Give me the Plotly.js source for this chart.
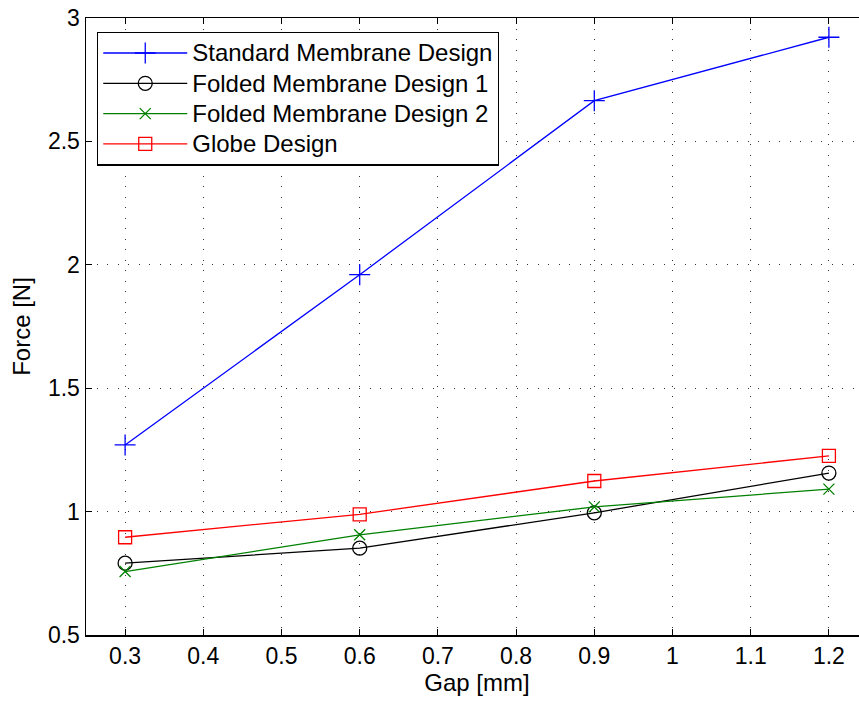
<!DOCTYPE html>
<html>
<head>
<meta charset="utf-8">
<script src="https://cdn.plot.ly/plotly-3.0.1.min.js"></script>
<style>
html,body{margin:0;padding:0;overflow:hidden;background:#fff;}
#chart{width:872px;height:702px;}
.legendtext{font-size:24px !important;}
</style>
</head>
<body>
<div id="chart"></div>
<script>
const gap = [0.3, 0.6, 0.9, 1.2];
const standardMembrane = [1.270, 1.960, 2.665, 2.922];
const foldedMembrane1 = [0.791, 0.852, 0.995, 1.156];
const foldedMembrane2 = [0.757, 0.906, 1.019, 1.091];
const globeDesign = [0.896, 0.989, 1.124, 1.226];
const seriesNames = ["Standard Membrane Design", "Folded Membrane Design 1", "Folded Membrane Design 2", "Globe Design"];
const xTicks = [0.3, 0.4, 0.5, 0.6, 0.7, 0.8, 0.9, 1, 1.1, 1.2];
const yTicks = [0.5, 1, 1.5, 2, 2.5, 3];

const fam = "Liberation Sans, Arial, sans-serif";
const tickFont = {family: fam, size: 23, color: "#000"};
const bigFont = {family: fam, size: 24, color: "#000"};
const legendFont = {family: fam, size: 21, color: "#000"};

const traces = [
  {x: gap, y: standardMembrane, name: seriesNames[0], mode: "lines+markers",
   line: {color: "#0000ff", width: 1.3},
   marker: {symbol: "cross-thin-open", size: 15, line: {color: "#0000ff", width: 1.3}}},
  {x: gap, y: foldedMembrane1, name: seriesNames[1], mode: "lines+markers",
   line: {color: "#000000", width: 1.3},
   marker: {symbol: "circle-open", size: 14, color: "#000", line: {color: "#000000", width: 1.3}}},
  {x: gap, y: foldedMembrane2, name: seriesNames[2], mode: "lines+markers",
   line: {color: "#008000", width: 1.3},
   marker: {symbol: "x-thin-open", size: 11, line: {color: "#008000", width: 1.3}}},
  {x: gap, y: globeDesign, name: seriesNames[3], mode: "lines+markers",
   line: {color: "#ff0000", width: 1.3},
   marker: {symbol: "square-open", size: 13, color: "#ff0000", line: {color: "#ff0000", width: 1.3}}}
];

const axisCommon = {
  showline: true, linecolor: "#000", linewidth: 1.5, mirror: "ticks",
  ticks: "inside", ticklen: 6, tickcolor: "#000", tickwidth: 1,
  showgrid: true, gridcolor: "#333", gridwidth: 1, griddash: "1px,9.5px",
  zeroline: false, tickfont: tickFont, automargin: false
};

const layout = {
  width: 872, height: 702,
  margin: {l: 86, r: 4, t: 18, b: 67},
  paper_bgcolor: "#fff", plot_bgcolor: "#fff",
  font: bigFont,
  showlegend: true,
  xaxis: Object.assign({}, axisCommon, {
    range: [0.25, 1.25], tickvals: xTicks, ticktext: xTicks.map(String),
    title: {text: "Gap [mm]", font: bigFont, standoff: 3}
  }),
  yaxis: Object.assign({}, axisCommon, {
    range: [0.5, 3], tickvals: yTicks, ticktext: yTicks.map(String),
    title: {text: "Force [N]", font: bigFont, standoff: 10}
  }),
  legend: {
    x: 0.014, y: 0.978, xanchor: "left", yanchor: "top",
    bgcolor: "#fff", bordercolor: "#000", borderwidth: 1.3,
    font: legendFont, tracegroupgap: 0, itemwidth: 84
  }
};

Plotly.newPlot("chart", traces, layout, {displayModeBar: false, staticPlot: true});
</script>
</body>
</html>
